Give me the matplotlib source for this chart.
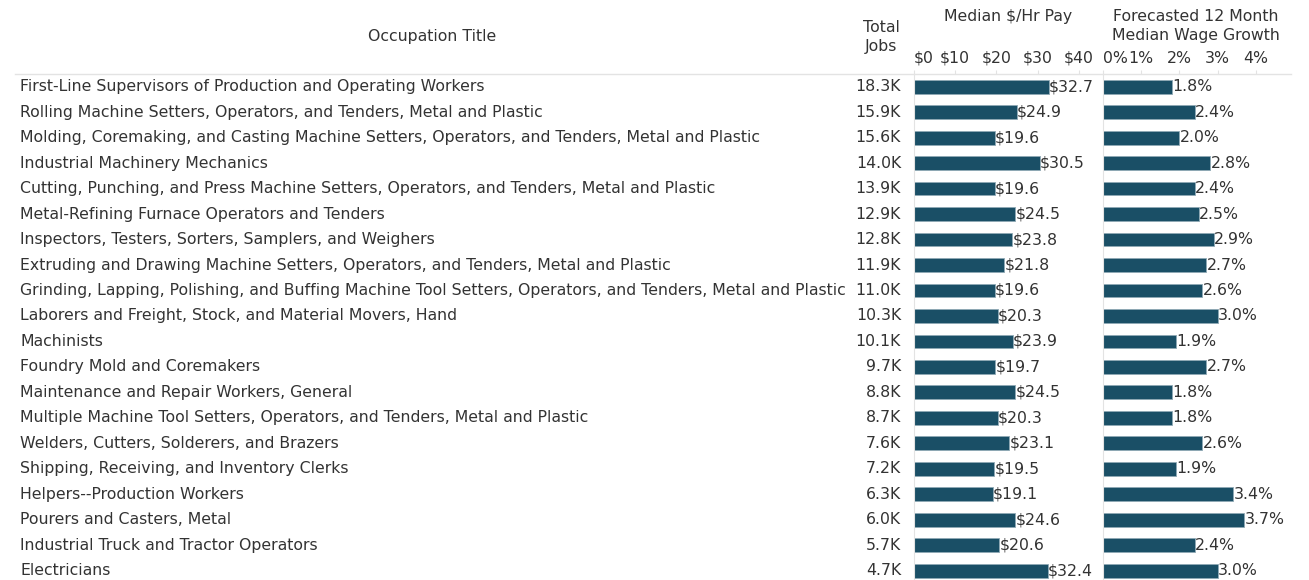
import matplotlib.pyplot as plt
from matplotlib.lines import Line2D

# data
occupations = [
    'First-Line Supervisors of Production and Operating Workers',
    'Rolling Machine Setters, Operators, and Tenders, Metal and Plastic',
    'Molding, Coremaking, and Casting Machine Setters, Operators, and Tenders, Metal and Plastic',
    'Industrial Machinery Mechanics',
    'Cutting, Punching, and Press Machine Setters, Operators, and Tenders, Metal and Plastic',
    'Metal-Refining Furnace Operators and Tenders',
    'Inspectors, Testers, Sorters, Samplers, and Weighers',
    'Extruding and Drawing Machine Setters, Operators, and Tenders, Metal and Plastic',
    'Grinding, Lapping, Polishing, and Buffing Machine Tool Setters, Operators, and Tenders, Metal and Plastic',
    'Laborers and Freight, Stock, and Material Movers, Hand',
    'Machinists',
    'Foundry Mold and Coremakers',
    'Maintenance and Repair Workers, General',
    'Multiple Machine Tool Setters, Operators, and Tenders, Metal and Plastic',
    'Welders, Cutters, Solderers, and Brazers',
    'Shipping, Receiving, and Inventory Clerks',
    'Helpers--Production Workers',
    'Pourers and Casters, Metal',
    'Industrial Truck and Tractor Operators',
    'Electricians',
]
total_jobs = [18.3, 15.9, 15.6, 14.0, 13.9, 12.9, 12.8, 11.9, 11.0, 10.3,
              10.1, 9.7, 8.8, 8.7, 7.6, 7.2, 6.3, 6.0, 5.7, 4.7]
median_pay = [32.7, 24.9, 19.6, 30.5, 19.6, 24.5, 23.8, 21.8, 19.6, 20.3,
              23.9, 19.7, 24.5, 20.3, 23.1, 19.5, 19.1, 24.6, 20.6, 32.4]
wage_growth = [1.8, 2.4, 2.0, 2.8, 2.4, 2.5, 2.9, 2.7, 2.6, 3.0,
               1.9, 2.7, 1.8, 1.8, 2.6, 1.9, 3.4, 3.7, 2.4, 3.0]
pay_ticks = [0, 10, 20, 30, 40]
pay_tick_labels = ['$0', '$10', '$20', '$30', '$40']
growth_ticks = [0, 1, 2, 3, 4]
growth_tick_labels = ['0%', '1%', '2%', '3%', '4%']

# colores
bar_color = '#1a4f66'
text_color = '#333333'
line_color = '#e3e3e3'

W, H = 1309, 580
fs = 11.3
plt.rcParams['font.family'] = ['DejaVu Sans']

fig = plt.figure(figsize=(W / 100, H / 100), dpi=100)

top_px = 74
row_px = 25.47
n = len(occupations)
y_bottom = -0.5 + (H - top_px) / row_px
ypos = list(range(n))


def px_rect(x0, x1):
    return [x0 / W, 0, (x1 - x0) / W, (H - top_px) / H]


# text column axes (pixel x coords)
ax_txt = fig.add_axes(px_rect(0, W))
ax_txt.set_xlim(0, W)
ax_txt.set_ylim(y_bottom, -0.5)
ax_txt.axis('off')
for i in ypos:
    ax_txt.text(20, i, occupations[i], ha='left', va='center', fontsize=fs, color=text_color)
    ax_txt.text(901, i, f'{total_jobs[i]:.1f}K', ha='right', va='center', fontsize=fs, color=text_color)

# header line
fig.add_artist(Line2D([15 / W, 1291 / W], [1 - top_px / H] * 2, color=line_color, lw=1))

# headers
fig.text(432 / W, 1 - 37 / H, 'Occupation Title', ha='center', va='center', fontsize=fs, color=text_color)
fig.text(881 / W, 1 - 37 / H, 'Total\nJobs', ha='center', va='center', fontsize=fs,
         color=text_color, linespacing=1.38)
fig.text(1008 / W, 1 - 16 / H, 'Median $/Hr Pay', ha='center', va='center', fontsize=fs, color=text_color)
fig.text(1196 / W, 1 - 26 / H, 'Forecasted 12 Month\nMedian Wage Growth', ha='center', va='center',
         fontsize=fs, color=text_color, linespacing=1.38)


def bar_panel(x0, x1, xmax, values, ticks, tick_labels, fmt):
    ax = fig.add_axes(px_rect(x0, x1))
    ax.barh(ypos, values, height=0.54, color=bar_color, edgecolor='#8fa9b5', linewidth=0.6)
    ax.set_xlim(0, xmax)
    ax.set_ylim(y_bottom, -0.5)
    ax.set_yticks([])
    ax.xaxis.tick_top()
    ax.set_xticks(ticks)
    ax.set_xticklabels(tick_labels, fontsize=fs, color=text_color)
    ax.get_xticklabels()[0].set_ha('left')
    ax.tick_params(axis='x', length=3, color=line_color, pad=3)
    for s in ['top', 'right', 'bottom']:
        ax.spines[s].set_visible(False)
    ax.spines['left'].set_color(line_color)
    for i in ypos:
        ax.annotate(fmt(values[i]), (values[i], i), xytext=(0.3, 0), textcoords='offset points',
                    ha='left', va='center', fontsize=fs, color=text_color)
    return ax


bar_panel(914, 1102, 45.6, median_pay, pay_ticks, pay_tick_labels, lambda v: f'${v:.1f}')
bar_panel(1103, 1291, 4.92, wage_growth, growth_ticks, growth_tick_labels, lambda v: f'{v:.1f}%')

fig.savefig('out.png', dpi=100, facecolor='white')
